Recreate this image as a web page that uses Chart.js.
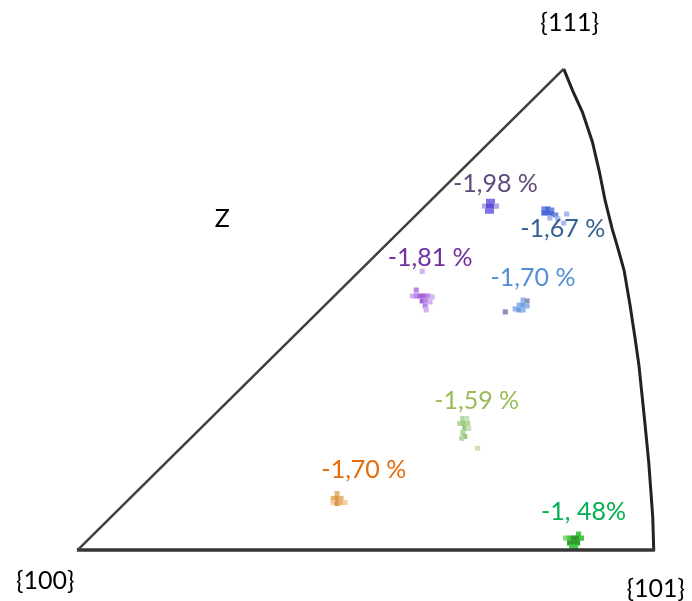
<!DOCTYPE html>
<html>
<head>
<meta charset="utf-8">
<title>Inverse pole figure – Z</title>
<script src="https://cdn.jsdelivr.net/npm/chart.js@4/dist/chart.umd.min.js"></script>
<style>
  html, body { margin: 0; padding: 0; background: #ffffff; }
  canvas { display: block; }
</style>
</head>
<body>
<canvas id="ipf" width="692" height="601"></canvas>
<script>
// Standard triangle outline, in drawing units with {100} at the origin
const edgeLeft = [[0, 0], [491, 487]];
const edgeBottom = [[-1, 0], [583, 0]];
const edgeArc = [
  [491, 487], [500, 465], [510, 443], [520, 413], [527, 383], [533, 353],
  [540, 325], [545, 308], [552, 283], [558, 248], [563, 215], [567, 187],
  [570, 158], [573, 129], [577, 88], [581, 33], [582, -1]
];

// Orientation clusters (x, y, shade: 0 = core, 1 = mid, 2 = faint)
const grain198 = [
  [415, 353, 1], [419, 353, 1], [411, 348, 2], [415, 348, 0], [419, 348, 0],
  [423, 348, 2], [414, 343, 1], [418, 343, 1]
];
const grain167 = [
  [471, 345, 1], [475, 345, 0], [479, 344, 1], [471, 341, 0], [475, 341, 0],
  [479, 340, 0], [483, 339, 1], [477, 336, 2], [485, 335, 2], [494, 340, 2],
  [491, 331, 2]
];
const grain181 = [
  [342, 263, 1], [338, 257, 2], [342, 257, 1], [346, 257, 0], [350, 257, 0],
  [354, 257, 1], [358, 256, 2], [348, 252, 0], [352, 252, 1], [356, 251, 2],
  [351, 247, 1], [352, 243, 2], [348, 282, 2]
];
const grain170b = [
  [450, 253, 1], [454, 252, 2], [446, 248, 1], [450, 248, 0], [454, 247, 1],
  [442, 244, 1], [446, 243, 0], [450, 243, 1], [432, 241, 2]
];
const grain159 = [
  [389, 133, 1], [393, 133, 2], [386, 128, 1], [390, 128, 0], [394, 128, 1],
  [391, 123, 0], [395, 123, 2], [389, 119, 1], [391, 115, 0], [388, 113, 1],
  [404, 103, 2]
];
const grain170o = [
  [262, 57, 1], [258, 52, 1], [262, 52, 0], [266, 52, 1], [258, 48, 2],
  [262, 47, 0], [266, 48, 1], [270, 48, 2]
];
const grain148 = [
  [506, 16, 1], [493, 12, 2], [497, 12, 1], [501, 12, 0], [505, 12, 0],
  [509, 12, 1], [497, 7, 0], [501, 7, 0], [505, 7, 0], [499, 3, 1],
  [503, 3, 1]
];

// Strain labels: text, anchor x, anchor y, colour
const strainLabels = [
  ['-1,98 %', 422, 370, '#604a7b'],
  ['-1,67 %', 490, 325, '#366092'],
  ['-1,81 %', 356, 296, '#7030a0'],
  ['-1,70 %', 460, 275, '#558ed5'],
  ['-1,59 %', 403, 151, '#9bbb59'],
  ['-1,70 %', 289, 81, '#e46c0a'],
  ['-1, 48%', 511, 39, '#00b050']
];
// Pole and axis labels
const poleLabels = [
  ['{111}', 497, 533],
  ['{100}', -33, -31],
  ['{101}', 584, -39],
  ['Z', 146, 335]
];

const toPts = arr => arr.map(p => ({ x: p[0], y: p[1] }));

function clusterSet(arr, shades) {
  return {
    type: 'scatter',
    data: toPts(arr),
    pointStyle: 'rect',
    pointRadius: 3.6,
    pointHoverRadius: 3.6,
    pointBorderWidth: 0,
    borderWidth: 0,
    pointBackgroundColor: arr.map(p => shades[p[2]]),
    backgroundColor: arr.map(p => shades[p[2]]),
    showLine: false
  };
}

function edgeSet(arr, width, color) {
  return {
    type: 'scatter',
    data: toPts(arr),
    showLine: true,
    borderColor: color,
    borderWidth: width,
    pointRadius: 0,
    fill: false,
    tension: 0
  };
}

const textPlugin = {
  id: 'ipfText',
  afterDatasetsDraw(chart) {
    const { ctx, scales: { x, y } } = chart;
    ctx.save();
    ctx.textAlign = 'center';
    ctx.textBaseline = 'middle';
    ctx.font = '25px Lato, "Open Sans", sans-serif';
    strainLabels.forEach(([t, lx, ly, c]) => {
      ctx.fillStyle = c;
      ctx.fillText(t, x.getPixelForValue(lx), y.getPixelForValue(ly));
    });
    ctx.fillStyle = '#000000';
    poleLabels.forEach(([t, lx, ly]) => {
      ctx.fillText(t, x.getPixelForValue(lx), y.getPixelForValue(ly));
    });
    ctx.restore();
  }
};

new Chart(document.getElementById('ipf'), {
  type: 'scatter',
  data: {
    datasets: [
      edgeSet(edgeLeft, 2.5, '#3f3f3f'),
      edgeSet(edgeBottom, 3.5, '#363636'),
      edgeSet(edgeArc, 3, '#222222'),
      clusterSet(grain198, ['#5b4fd6', '#7f72e2', '#b0a8ee']),
      clusterSet(grain167, ['#4a68d6', '#6f8ae0', '#a9b8ee']),
      clusterSet(grain181, ['#a765dc', '#bb86e6', '#d4b2f0']),
      clusterSet(grain170b, ['#6f9fe0', '#92b6e8', '#8796b6']),
      clusterSet(grain159, ['#9cc880', '#b5d69e', '#c9e2b8']),
      clusterSet(grain170o, ['#d99a4a', '#e9b574', '#f3d0a4']),
      clusterSet(grain148, ['#2f9a2f', '#46c846', '#7ddc7d'])
    ]
  },
  options: {
    responsive: false,
    animation: false,
    layout: { padding: 0 },
    plugins: { legend: { display: false }, tooltip: { enabled: false } },
    scales: {
      x: { type: 'linear', min: -75, max: 617, display: false },
      y: { type: 'linear', min: -48, max: 553, display: false }
    }
  },
  plugins: [textPlugin]
});
</script>
</body>
</html>
